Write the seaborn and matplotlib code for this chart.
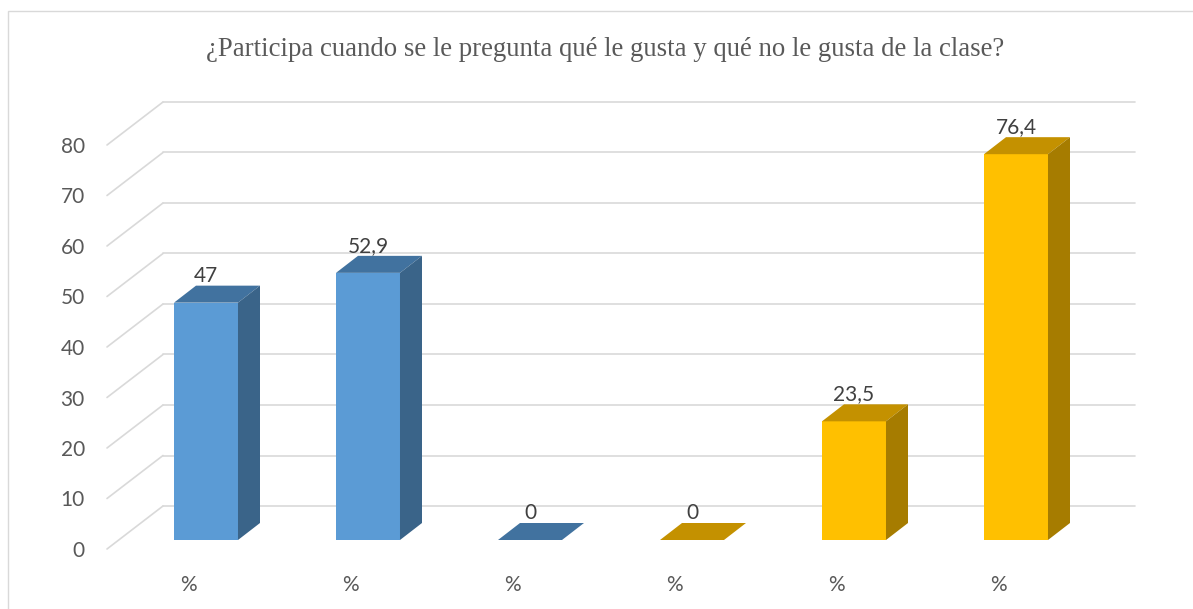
import numpy as np
import pandas as pd
import matplotlib
matplotlib.use("Agg")
import matplotlib.pyplot as plt
from matplotlib.patches import Polygon, Rectangle
import seaborn as sns

# chart data
positions = ["p1", "p2", "p3", "p4", "p5", "p6"]
tick_labels = ["%", "%", "%", "%", "%", "%"]
groups = ["Serie 1", "Serie 1", "Serie 1", "Serie 2", "Serie 2", "Serie 2"]
values = [47, 52.9, 0, 0, 23.5, 76.4]
value_labels = ["47", "52,9", "0", "0", "23,5", "76,4"]
title = "¿Participa cuando se le pregunta qué le gusta y qué no le gusta de la clase?"

# colours per series: front, side, top
front_col = {"Serie 1": "#5B9BD5", "Serie 2": "#FFC000"}
side_col = {"Serie 1": "#3A6489", "Serie 2": "#A67C00"}
top_col = {"Serie 1": "#41729F", "Serie 2": "#C49100"}

df = pd.DataFrame({"pos": positions, "group": groups, "value": values})

sns.set_style("white")
plt.rcParams["font.family"] = ["Lato", "DejaVu Sans"]

W, H = 1193, 609
fig = plt.figure(figsize=(W / 100, H / 100), dpi=100)

# front plane of the chart in pixels
left, right, bottom, top = 107, 1079, 549, 145
ax = fig.add_axes([left / W, (H - bottom) / H, (right - left) / W, (bottom - top) / H])

sns.barplot(data=df, x="pos", y="value", hue="group", order=positions,
            palette=front_col, dodge=False, width=0.395, saturation=1,
            legend=False, ax=ax, zorder=3)

ax.set_xlim(-0.5, len(positions) - 0.5)
ax.set_ylim(0, 80)
for s in ax.spines.values():
    s.set_visible(False)
ax.grid(False)
ax.set_xlabel("")
ax.set_ylabel("")

ax.set_yticks(np.arange(0, 81, 10))
ax.set_yticklabels([str(v) for v in range(0, 81, 10)])
ax.set_xticks(range(len(positions)))
ax.set_xticklabels(tick_labels)
ax.tick_params(axis="y", length=0, pad=16, labelsize=15, labelcolor="#595959")
ax.tick_params(axis="x", length=0, pad=19, labelsize=15, labelcolor="#595959")


def shift(x, y, dx_px, dy_px):
    X, Y = ax.transData.transform((x, y))
    return ax.transData.inverted().transform((X + dx_px, Y + dy_px))


# back wall: depth offset of the wall in pixels
wall_dx, wall_dy = 56, 43
grid_kw = dict(color="#D9D9D9", lw=1.2, clip_on=False, zorder=0)
x0, x1 = -0.5, len(positions) - 0.5
for v in range(0, 81, 10):
    bl = shift(x0, v, wall_dx, wall_dy)
    br = shift(x1, v, wall_dx, wall_dy)
    ax.plot([x0, bl[0]], [v, bl[1]], **grid_kw)
    ax.plot([bl[0], br[0]], [bl[1], br[1]], **grid_kw)

# bars sit a bit behind the front plane, give them depth
bar_dx, bar_dy = 18, 9
depth_dx, depth_dy = 22, 17
for p in list(ax.patches):
    i = int(round(p.get_x() + p.get_width() / 2))
    g = groups[i]
    h = values[i]
    nx, ny = shift(p.get_x(), 0, bar_dx, bar_dy)
    p.set_x(nx)
    p.set_y(ny)
    p.set_edgecolor("none")
    xa, xb = nx, nx + p.get_width()
    ytop = ny + h
    a = shift(xa, ytop, depth_dx, depth_dy)
    b = shift(xb, ytop, depth_dx, depth_dy)
    c = shift(xb, ny, depth_dx, depth_dy)
    top_face = Polygon([(xa, ytop), (xb, ytop), b, a], closed=True,
                       facecolor=top_col[g], edgecolor="none", zorder=3, clip_on=False)
    ax.add_patch(top_face)
    if h > 0:
        side_face = Polygon([(xb, ny), (xb, ytop), b, c], closed=True,
                            facecolor=side_col[g], edgecolor="none", zorder=3, clip_on=False)
        ax.add_patch(side_face)
    lx, ly = shift(xa + p.get_width() / 2, ytop, 0, 27)
    ax.text(lx, ly, value_labels[i], ha="center", va="center", fontsize=15,
            color="#404040", zorder=4, clip_on=False)

fig.text(605 / W, 1 - 50 / H, title, ha="center", va="center",
         fontsize=19.3, color="#595959", family=["Liberation Serif", "DejaVu Serif"])

# chart area frame
fig.add_artist(Rectangle((8 / W, -0.05), 1.1, (H - 11) / H + 0.05, fill=False,
                         edgecolor="#D9D9D9", lw=1, transform=fig.transFigure))

fig.savefig("out.png", dpi=100)
